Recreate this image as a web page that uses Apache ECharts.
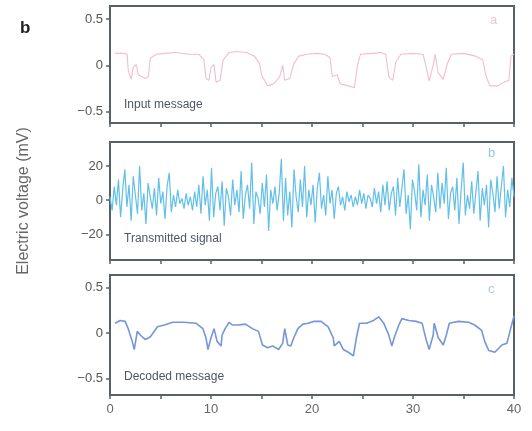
<!DOCTYPE html>
<html>
<head>
<meta charset="utf-8">
<script src="https://cdn.jsdelivr.net/npm/echarts@6/dist/echarts.min.js"></script>
<style>
  html, body { margin: 0; padding: 0; background: #fff; }
  #chart { width: 532px; height: 431px; }
</style>
</head>
<body>
<div id="chart"></div>
<script>
// panel a: input message (time in s, voltage in mV)
const inputT = [0.5, 1.4, 1.7, 1.8, 2.1, 2.3, 2.6, 2.8, 3.5, 3.8, 4.0, 4.6, 5.5, 6.5, 7.8, 8.8, 9.3, 9.5, 9.8, 10.0,
  10.3, 10.5, 10.9, 11.2, 11.8, 12.5, 13.5, 14.3, 14.8, 15.0, 15.6, 16.2, 16.8, 17.1, 17.3, 17.8, 18.2, 18.7, 19.5, 20.5,
  21.3, 21.8, 22.0, 22.5, 22.8, 23.6, 24.2, 24.5, 24.8, 26.0, 26.8, 27.3, 27.6, 28.0, 28.3, 28.8, 30.0, 31.0, 31.3, 31.6,
  32.0, 32.2, 32.5, 33.0, 33.4, 33.8, 35.0, 36.2, 36.9, 37.2, 37.6, 38.4, 39.0, 39.5, 39.7, 40.0];
const inputV = [0.13, 0.13, 0.12, -0.05, -0.15, -0.02, 0.01, -0.1, -0.14, -0.12, 0.08, 0.12, 0.13, 0.14, 0.12, 0.12, 0.06, -0.14, -0.16, -0.02,
  0.01, -0.18, -0.16, 0.06, 0.14, 0.15, 0.14, 0.1, 0.02, -0.1, -0.22, -0.2, -0.12, 0.0, -0.16, -0.14, 0.02, 0.1, 0.12, 0.13,
  0.12, 0.08, -0.12, -0.1, -0.2, -0.22, -0.24, 0.0, 0.12, 0.13, 0.14, 0.12, -0.12, -0.16, 0.04, 0.12, 0.13, 0.12, -0.02, -0.17,
  0.0, 0.12, -0.08, -0.15, 0.02, 0.12, 0.13, 0.1, 0.06, -0.1, -0.22, -0.22, -0.18, -0.16, 0.1, 0.12];

// panel b: transmitted signal, evenly sampled over 0..40 s
const transmitted = [
  2, -6, 8, -3, 12, -10, 6, 18, -4, 9, -12, 14, 3, -8, 20, -6, 4, -14, 10, 2, -5,
  7, -9, 13, -2, 5, -11, 8, 16, -7, 3, -4, 6, -2, 1, -5, 4, -3, 2, -6,
  5, -4, 9, -8, 14, -3, 6, -12, 19, -10, 4, 8, -6, 11, -15, 7, 2, -9, 12,
  -3, 6, -7, 17, -11, 3, 9, -5, 22, -14, 5, 1, -8, 10, -4, 15, -18, 6, -2,
  8, -6, 4, 24, -12, 13, -9, 5, -16, 18, 2, -7, 12, -4, 20, -10, 6, -3, 9,
  -13, 7, 16, -5, 3, -9, 14, -2, 6, -11, 4, 8, -3, 2, -6, 5, -1, 3, -4,
  2, -3, 6, -2, 4, -5, 3, 1, -4, 7, -2, 5, -7, 9, -3, 11, -6, 4, 8,
  -9, 13, -4, 7, 18, -8, 3, -17, 12, 5, -6, 21, -10, 6, -3, 15, -12, 9, 2,
  -7, 16, -5, 10, -2, 19, -11, 4, 8, -6, 13, -14, 6, 22, -9, 3, -5, 11, -8,
  5, 17, -12, 7, -3, 9, -16, 12, 4, -7, 14, -5, 8, 20, -10, 6, -4, 13, 2
];

// panel c: decoded message
const decodedT = [0.5, 1.0, 1.5, 1.8, 2.2, 2.4, 2.7, 3.0, 3.5, 4.0, 4.7, 5.4, 6.2, 7.3, 8.5, 9.2, 9.5, 9.7, 10.0, 10.3,
  10.6, 11.0, 11.1, 11.4, 11.8, 12.1, 12.7, 13.4, 14.1, 14.7, 15.1, 15.6, 16.1, 16.7, 17.1, 17.3, 17.6, 17.9, 18.2, 18.6,
  19.1, 19.6, 20.2, 20.9, 21.6, 22.1, 22.2, 22.7, 23.1, 23.6, 24.1, 24.4, 24.7, 25.4, 26.1, 26.6, 27.1, 27.6, 27.9, 28.2,
  28.6, 28.9, 29.6, 30.3, 30.9, 31.1, 31.3, 31.6, 32.0, 32.1, 32.5, 33.0, 33.3, 33.6, 34.5, 35.5, 36.1, 36.8, 37.1, 37.5,
  38.1, 38.8, 39.3, 39.6, 40.0];
const decodedV = [0.11, 0.14, 0.13, 0.05, -0.09, -0.18, 0.02, -0.02, -0.07, -0.04, 0.07, 0.09, 0.12, 0.12, 0.11, 0.05, -0.05, -0.18, -0.05, 0.05,
  -0.09, -0.14, -0.02, 0.05, 0.12, 0.09, 0.09, 0.1, 0.05, 0.02, -0.13, -0.16, -0.14, -0.18, -0.11, 0.05, -0.13, -0.14, -0.05, 0.05,
  0.1, 0.11, 0.13, 0.13, 0.07, -0.05, -0.14, -0.09, -0.18, -0.21, -0.25, -0.05, 0.11, 0.11, 0.14, 0.18, 0.11, -0.02, -0.14, -0.03,
  0.09, 0.16, 0.14, 0.13, 0.11, 0.02, -0.07, -0.18, -0.02, 0.11, -0.05, -0.13, -0.02, 0.11, 0.13, 0.12, 0.09, 0.03, -0.09, -0.19,
  -0.21, -0.13, -0.11, 0.02, 0.19];

const xTicks = [0, 10, 20, 30, 40];
const yTicksMsg = [-0.5, 0, 0.5];
const yTicksSig = [-20, 0, 20];
const panelLabels = ['Input message', 'Transmitted signal', 'Decoded message'];

const axisColor = '#5a606a';
const labelFont = 'Liberation Sans';

function pairs(xs, ys) {
  return ys.map((v, i) => [xs[i], v]);
}

function evenPairs(ys) {
  return ys.map((v, i) => [i * 40 / (ys.length - 1), v]);
}

function fmt(v) {
  if (v === 0) return '0';
  return (v < 0 ? '\u2212' : '') + Math.abs(v);
}

function xAxisFor(idx, showLabels) {
  return {
    type: 'value', gridIndex: idx, min: 0, max: 40, interval: 5,
    axisLine: { show: true, onZero: false, lineStyle: { color: axisColor, width: 2 } },
    axisTick: { show: true, length: 4, lineStyle: { color: axisColor, width: 1.5 } },
    axisLabel: {
      show: showLabels, color: '#666', fontSize: 13, fontFamily: labelFont, margin: 8,
      formatter: v => xTicks.includes(v) ? String(v) : ''
    },
    splitLine: { show: false }
  };
}

function yAxisFor(idx, min, max, ticks, extra) {
  return Object.assign({
    type: 'value', gridIndex: idx, min: min, max: max,
    axisLine: { show: true, onZero: false, lineStyle: { color: axisColor, width: 2 } },
    axisTick: { show: true, length: 4, customValues: ticks, lineStyle: { color: axisColor, width: 1.5 } },
    axisLabel: { color: '#555', fontSize: 13, fontFamily: labelFont, margin: 7, customValues: ticks, formatter: fmt },
    splitLine: { show: false }
  }, extra || {});
}

function gridAt(top, height) {
  return {
    left: 110, right: 18, top: top, height: height,
    show: true, borderColor: axisColor, borderWidth: 2, backgroundColor: 'transparent'
  };
}

const chart = echarts.init(document.getElementById('chart'), null, { renderer: 'canvas' });

chart.setOption({
  animation: false,
  backgroundColor: '#fff',
  grid: [gridAt(6, 117), gridAt(142, 118), gridAt(275, 120)],
  xAxis: [xAxisFor(0, false), xAxisFor(1, false), xAxisFor(2, true)],
  yAxis: [
    yAxisFor(0, -0.62, 0.64, yTicksMsg),
    yAxisFor(1, -35, 34, yTicksSig, {
      name: 'Electric voltage (mV)', nameLocation: 'middle', nameGap: 78, nameRotate: 90,
      nameTextStyle: { color: '#666', fontSize: 16, fontFamily: labelFont }
    }),
    yAxisFor(2, -0.68, 0.64, yTicksMsg)
  ],
  series: [
    {
      type: 'line', xAxisIndex: 0, yAxisIndex: 0, showSymbol: false,
      data: pairs(inputT, inputV),
      lineStyle: { color: '#f4bccd', width: 1.1 }
    },
    {
      type: 'line', xAxisIndex: 1, yAxisIndex: 1, showSymbol: false,
      data: evenPairs(transmitted),
      lineStyle: { color: '#62bfe8', width: 1.2 }
    },
    {
      type: 'line', xAxisIndex: 2, yAxisIndex: 2, showSymbol: false,
      data: pairs(decodedT, decodedV),
      lineStyle: { color: '#7596d8', width: 1.6 }
    }
  ],
  graphic: [
    { type: 'text', left: 20, top: 20, style: { text: 'b', font: 'bold 17px "Liberation Sans"', fill: '#222' } },
    { type: 'text', left: 124, top: 99, style: { text: panelLabels[0], font: '12px "Liberation Sans"', fill: '#4e5566' } },
    { type: 'text', left: 124, top: 233, style: { text: panelLabels[1], font: '12px "Liberation Sans"', fill: '#4e5566' } },
    { type: 'text', left: 124, top: 371, style: { text: panelLabels[2], font: '12px "Liberation Sans"', fill: '#4e5566' } },
    { type: 'text', left: 490, top: 14, style: { text: 'a', font: '13px "Liberation Sans"', fill: '#f4c4d2' } },
    { type: 'text', left: 488, top: 147, style: { text: 'b', font: '13px "Liberation Sans"', fill: '#8ccde9' } },
    { type: 'text', left: 488, top: 283, style: { text: 'c', font: '13px "Liberation Sans"', fill: '#b4c4ea' } }
  ]
});

window.addEventListener('resize', () => chart.resize());
</script>
</body>
</html>
